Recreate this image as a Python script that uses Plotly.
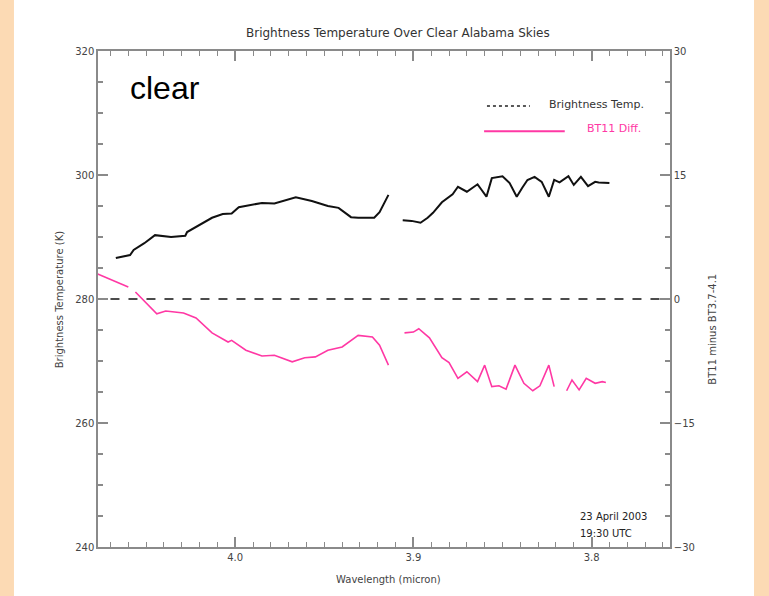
import plotly.graph_objects as go

# Brightness temperature (K) along wavelength (micron); None marks a gap in the data
bt_wavelength = [4.067, 4.059, 4.057, 4.051, 4.045, 4.036, 4.028, 4.027, 4.013, 4.007,
                 4.002, 3.998, 3.985, 3.978, 3.966, 3.957, 3.948, 3.942, 3.935, 3.931,
                 3.922, 3.919, 3.914, None,
                 3.906, 3.901, 3.896, 3.892, 3.889, 3.884, 3.878, 3.875, 3.870, 3.864,
                 3.862, 3.859, 3.856, 3.850, 3.846, 3.842, 3.839, 3.836, 3.832, 3.828,
                 3.824, 3.821, 3.818, 3.813, 3.810, 3.806, 3.802, 3.798, 3.796, 3.790]
bt_kelvin = [286.6, 287.1, 287.9, 289.0, 290.3, 290.0, 290.2, 290.8, 293.1, 293.7,
             293.8, 294.8, 295.5, 295.4, 296.4, 295.8, 295.0, 294.7, 293.2, 293.1,
             293.1, 294.0, 296.8, None,
             292.7, 292.6, 292.3, 293.1, 293.9, 295.6, 296.9, 298.1, 297.3, 298.5,
             297.7, 296.5, 299.5, 299.8, 298.7, 296.5, 297.9, 299.2, 299.7, 298.9,
             296.5, 299.2, 298.8, 299.8, 298.4, 299.7, 298.2, 298.9, 298.8, 298.7]

# BT11 minus BT3.7-4.1 difference (K)
diff_wavelength = [4.078, 4.060, None,
                   4.056, 4.044, 4.039, 4.029, 4.022, 4.013, 4.004, 4.002, 3.994, 3.985,
                   3.978, 3.968, 3.961, 3.955, 3.948, 3.940, 3.931, 3.923, 3.919, 3.914, None,
                   3.905, 3.900, 3.897, 3.891, 3.884, 3.880, 3.875, 3.870, 3.864, 3.860,
                   3.856, 3.852, 3.848, 3.843, 3.838, 3.833, 3.829, 3.824, 3.821, None,
                   3.814, 3.811, 3.807, 3.803, 3.798, 3.794, 3.792]
diff_kelvin = [3.1, 1.45, None,
               0.85, -1.8, -1.45, -1.7, -2.3, -4.1, -5.2, -5.0, -6.2, -6.9,
               -6.8, -7.6, -7.1, -7.0, -6.2, -5.8, -4.4, -4.6, -5.6, -8.0, None,
               -4.1, -4.0, -3.6, -4.7, -7.1, -7.7, -9.6, -8.8, -10.0, -8.0,
               -10.6, -10.5, -10.9, -8.0, -10.2, -11.1, -10.5, -8.0, -10.6, None,
               -11.1, -9.8, -11.0, -9.6, -10.2, -10.0, -10.1]

zero_wavelength = [4.070, 3.756]
zero_diff = [0, 0]

x_range = [4.077, 3.756]
bt_range = [240, 320]
diff_range = [-30, 30]

FONT = "DejaVu Sans"
AXIS_GREY = "#8a8a8a"
TEXT_GREY = "#444444"
PINK = "#ff38a4"
PEACH = "#fcdab4"

fig = go.Figure()

fig.add_trace(go.Scatter(
    x=bt_wavelength, y=bt_kelvin, mode="lines", yaxis="y",
    line=dict(color="#111111", width=2), connectgaps=False, hoverinfo="skip"))

fig.add_trace(go.Scatter(
    x=diff_wavelength, y=diff_kelvin, mode="lines", yaxis="y2",
    line=dict(color=PINK, width=1.6), connectgaps=False, hoverinfo="skip"))

fig.add_trace(go.Scatter(
    x=zero_wavelength, y=zero_diff, mode="lines", yaxis="y2",
    line=dict(color="#111111", width=1.3, dash="dash"), hoverinfo="skip"))

# invisible carrier so the top wavelength axis gets drawn with its ticks
fig.add_trace(go.Scatter(
    x=zero_wavelength, y=zero_diff, mode="lines", xaxis="x2", yaxis="y2",
    line=dict(width=0), opacity=0, hoverinfo="skip"))

tick_font = dict(family=FONT, size=10, color=TEXT_GREY)

x_common = dict(
    range=x_range, autorange=False,
    tickmode="linear", tick0=4.0, dtick=0.1, tickformat=".1f",
    ticks="inside", ticklen=10, tickwidth=1.5, tickcolor=AXIS_GREY,
    minor=dict(dtick=0.01, tick0=4.0, ticks="inside", ticklen=5,
               tickcolor=AXIS_GREY, tickwidth=1),
    showline=True, linecolor=AXIS_GREY, linewidth=1.5,
    showgrid=False, zeroline=False, tickfont=tick_font,
)

fig.update_layout(
    width=769, height=596,
    margin=dict(l=98, r=99, t=51, b=49),
    paper_bgcolor="white", plot_bgcolor="white",
    showlegend=False,
    xaxis=dict(**x_common),
    xaxis2=dict(**x_common, overlaying="x", side="top", showticklabels=False),
    yaxis=dict(
        range=bt_range, autorange=False,
        tickmode="linear", tick0=240, dtick=20,
        ticks="inside", ticklen=10, tickwidth=1.5, tickcolor=AXIS_GREY,
        minor=dict(dtick=5, ticks="inside", ticklen=5, tickcolor=AXIS_GREY, tickwidth=1.5),
        showline=True, linecolor=AXIS_GREY, linewidth=1.5,
        showgrid=False, zeroline=False, tickfont=tick_font,
    ),
    yaxis2=dict(
        range=diff_range, autorange=False, overlaying="y", side="right",
        tickmode="linear", tick0=-30, dtick=15,
        ticks="inside", ticklen=10, tickwidth=1.5, tickcolor=AXIS_GREY,
        minor=dict(dtick=3.75, ticks="inside", ticklen=5, tickcolor=AXIS_GREY, tickwidth=1.5),
        showline=True, linecolor=AXIS_GREY, linewidth=1.5,
        showgrid=False, zeroline=False, tickfont=tick_font,
    ),
)

# peach page border on both sides
fig.add_shape(type="rect", xref="paper", yref="paper", x0=-0.2, x1=-0.1469,
              y0=-0.2, y1=1.2, fillcolor=PEACH, line_width=0, layer="below")
fig.add_shape(type="rect", xref="paper", yref="paper", x0=1.1469, x1=1.25,
              y0=-0.2, y1=1.2, fillcolor=PEACH, line_width=0, layer="below")

# legend keys
fig.add_shape(type="line", xref="paper", yref="paper", x0=0.680, x1=0.755,
              y0=0.889, y1=0.889, line=dict(color="#222222", width=1.5, dash="dot"))
fig.add_shape(type="line", xref="paper", yref="paper", x0=0.675, x1=0.816,
              y0=0.838, y1=0.838, line=dict(color=PINK, width=2))

annotations = [
    dict(text="Brightness Temperature Over Clear Alabama Skies", x=0.524, y=1.036,
         xanchor="center", yanchor="middle", font=dict(family=FONT, size=12, color="#333333")),
    dict(text="clear", x=0.052, y=0.925, xanchor="left", yanchor="middle",
         font=dict(family="Liberation Sans", size=32, color="#000000")),
    dict(text="Brightness Temp.", x=0.785, y=0.893, xanchor="left", yanchor="middle",
         font=dict(family=FONT, size=11, color="#333333")),
    dict(text="BT11 Diff.", x=0.851, y=0.843, xanchor="left", yanchor="middle",
         font=dict(family=FONT, size=11, color=PINK)),
    dict(text="23 April 2003", x=0.839, y=0.0625, xanchor="left", yanchor="middle",
         font=dict(family=FONT, size=10, color="#222222")),
    dict(text="19:30 UTC", x=0.839, y=0.028, xanchor="left", yanchor="middle",
         font=dict(family=FONT, size=10, color="#222222")),
    dict(text="Wavelength (micron)", x=0.507, y=-0.0665, xanchor="center", yanchor="middle",
         font=dict(family=FONT, size=10, color=TEXT_GREY)),
    dict(text="Brightness Temperature (K)", x=-0.066, y=0.498, xanchor="center",
         yanchor="middle", textangle=-90, font=dict(family=FONT, size=10, color=TEXT_GREY)),
    dict(text="BT11 minus BT3.7-4.1", x=1.075, y=0.44, xanchor="center",
         yanchor="middle", textangle=-90, font=dict(family=FONT, size=10, color=TEXT_GREY)),
]
for a in annotations:
    fig.add_annotation(xref="paper", yref="paper", showarrow=False, **a)

fig.write_html("out.html")
